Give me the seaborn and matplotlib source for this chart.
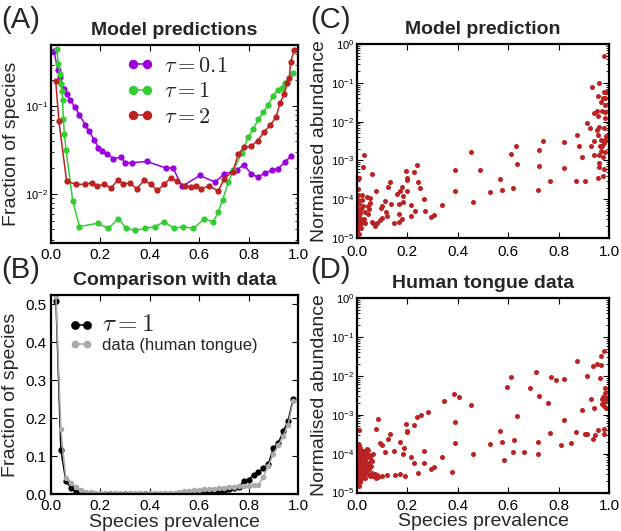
import numpy as np
import matplotlib
matplotlib.use("Agg")
import matplotlib.pyplot as plt
import seaborn as sns
from matplotlib.ticker import LogLocator, NullFormatter, MultipleLocator, FormatStrFormatter

# ---- panel A: model predictions (fraction of species vs prevalence)
x_tau01 = [0.012, 0.027, 0.036, 0.054, 0.063, 0.077, 0.097, 0.115, 0.138, 0.155, 0.174, 0.192,
           0.205, 0.227, 0.252, 0.283, 0.300, 0.329, 0.387, 0.464, 0.495, 0.529, 0.603, 0.664,
           0.700, 0.752, 0.781, 0.810, 0.837, 0.866, 0.893, 0.920, 0.947, 0.970]
y_tau01 = [0.43, 0.26, 0.219, 0.159, 0.139, 0.119, 0.098, 0.081, 0.062, 0.052, 0.042, 0.034,
           0.031, 0.029, 0.0254, 0.0266, 0.0229, 0.0229, 0.0237, 0.020, 0.020, 0.0123, 0.0164, 0.0138,
           0.0169, 0.019, 0.0217, 0.0172, 0.0157, 0.0175, 0.0187, 0.0196, 0.0233, 0.027]

x_tau1 = [0.023, 0.030, 0.036, 0.040, 0.045, 0.047, 0.050, 0.054, 0.061, 0.088, 0.115,
          0.189, 0.232, 0.273, 0.304, 0.340, 0.381, 0.421, 0.459, 0.498, 0.536, 0.576, 0.619, 0.657,
          0.677, 0.695, 0.718, 0.738, 0.772, 0.799, 0.819, 0.839, 0.860, 0.880, 0.900, 0.918,
          0.934, 0.947, 0.978]
y_tau1 = [0.45, 0.305, 0.235, 0.181, 0.148, 0.117, 0.072, 0.049, 0.0316, 0.0085, 0.0043,
          0.0047, 0.0041, 0.0053, 0.0041, 0.0039, 0.0041, 0.0043, 0.0049, 0.0041, 0.0043, 0.0041, 0.0052, 0.0049,
          0.0063, 0.0087, 0.0138, 0.0187, 0.0295, 0.0449, 0.0557, 0.0711, 0.0863, 0.105, 0.133, 0.155,
          0.163, 0.184, 0.239]

x_tau2 = [0.019, 0.032, 0.063, 0.101, 0.138, 0.165, 0.188, 0.215, 0.242, 0.270,
          0.293, 0.320, 0.347, 0.377, 0.405, 0.430, 0.459, 0.486, 0.509, 0.543,
          0.566, 0.587, 0.607, 0.641, 0.677, 0.702, 0.736, 0.758, 0.781, 0.810,
          0.837, 0.862, 0.887, 0.911, 0.927, 0.943, 0.957, 0.965, 0.970, 0.984]
y_tau2 = [0.197, 0.068, 0.0142, 0.013, 0.013, 0.0136, 0.0123, 0.0132, 0.0118, 0.0144,
          0.0132, 0.0134, 0.0116, 0.0144, 0.013, 0.0111, 0.013, 0.0155, 0.0141, 0.0125,
          0.0121, 0.0125, 0.0116, 0.0125, 0.0109, 0.0151, 0.0182, 0.0285, 0.0345, 0.0351,
          0.041, 0.051, 0.0608, 0.0756, 0.109, 0.137, 0.184, 0.212, 0.318, 0.433]

# ---- panel B: comparison with data
x_prev = [0.02, 0.04, 0.06, 0.08, 0.10, 0.12, 0.14, 0.16, 0.18, 0.20, 0.22, 0.24, 0.26, 0.28,
          0.30, 0.32, 0.34, 0.36, 0.38, 0.40, 0.42, 0.44, 0.46, 0.48, 0.50, 0.52, 0.54, 0.56,
          0.58, 0.60, 0.62, 0.64, 0.66, 0.68, 0.70, 0.72, 0.74, 0.76, 0.78, 0.80, 0.82, 0.84,
          0.86, 0.88, 0.90, 0.92, 0.94, 0.96, 0.98]
y_model = [0.51, 0.116, 0.034, 0.017, 0.006, 0.002, 0.001, 0.0005, 0.0003, 0.0, 0.0, 0.0, 0.0, 0.0,
           0.0, 0.0, 0.0, 0.0, 0.0, 0.0, 0.0, 0.0, 0.0, 0.0, 0.0, 0.0003, 0.001, 0.001,
           0.001, 0.002, 0.002, 0.003, 0.004, 0.006, 0.009, 0.013, 0.017, 0.019, 0.033, 0.037, 0.051, 0.058,
           0.068, 0.078, 0.122, 0.134, 0.165, 0.193, 0.251]
y_tongue = [0.522, 0.171, 0.041, 0.028, 0.019, 0.011, 0.006, 0.004, 0.003, 0.002, 0.002, 0.001, 0.002, 0.002,
            0.001, 0.002, 0.002, 0.002, 0.001, 0.002, 0.002, 0.002, 0.002, 0.003, 0.003, 0.004, 0.007, 0.009,
            0.010, 0.011, 0.012, 0.012, 0.014, 0.015, 0.017, 0.018, 0.019, 0.020, 0.021, 0.022, 0.023, 0.024,
            0.045, 0.075, 0.105, 0.128, 0.152, 0.183, 0.245]

# ---- panel C: model prediction, abundance vs prevalence
x_pred = [0.028, 0.022, 0.009, 0.061, 0.074, 0.038, 0.052, 0.045, 0.032, 0.012, 0.005, 0.003, 0.001, 0.008,
          0.019, 0.032, 0.058, 0.065, 0.071, 0.081, 0.091, 0.098, 0.098, 0.095, 0.111, 0.114, 0.118, 0.124,
          0.131, 0.135, 0.148, 0.157, 0.165, 0.167, 0.167, 0.171, 0.177, 0.177, 0.184, 0.184, 0.193, 0.197,
          0.200, 0.197, 0.214, 0.213, 0.226, 0.230, 0.237, 0.241, 0.249, 0.266, 0.269, 0.294, 0.307, 0.336,
          0.389, 0.389, 0.452, 0.462,
          0.002, 0.004, 0.003, 0.006, 0.002, 0.007, 0.004, 0.010, 0.004, 0.008, 0.014, 0.016, 0.018, 0.021,
          0.025, 0.014, 0.027, 0.043, 0.051, 0.048,
          0.488, 0.528, 0.567, 0.577, 0.611, 0.620, 0.630, 0.634, 0.717, 0.722, 0.724, 0.739, 0.766, 0.820,
          0.822, 0.869, 0.874, 0.881, 0.893, 0.905, 0.914, 0.926, 0.930, 0.934, 0.940, 0.940, 0.942, 0.951,
          0.954, 0.955, 0.956, 0.958, 0.958, 0.959, 0.960, 0.960, 0.962, 0.962, 0.964, 0.967, 0.967, 0.968,
          0.971, 0.973, 0.975, 0.977, 0.977, 0.980, 0.980, 0.981, 0.981, 0.983, 0.983, 0.984, 0.984, 0.985,
          0.987, 0.987, 0.983, 0.980]
y_pred = [1.34e-3, 6.7e-4, 3.5e-4, 4.5e-4, 1.6e-4, 1.17e-4, 8.2e-5, 6.5e-5, 4.8e-5, 4.3e-5, 2.9e-5, 2.0e-5, 1.46e-5, 2.4e-5,
          2.6e-5, 2.4e-5, 2.6e-5, 2.4e-5, 2.0e-5, 2.5e-5, 2.9e-5, 3.2e-5, 6.8e-5, 5.8e-5, 9.2e-5, 4.8e-5, 3.7e-5, 2.1e-4,
          2.75e-4, 7.4e-5, 2.5e-5, 1.37e-4, 7.6e-5, 4.1e-5, 2.6e-5, 1.67e-4, 2.1e-4, 3.0e-5, 1.2e-4, 8.7e-5, 5.2e-4, 3.5e-4,
          3.1e-4, 1.67e-4, 7.1e-5, 3.7e-5, 4.9e-4, 5.0e-5, 7.6e-4, 2.7e-4, 1.9e-4, 1.04e-4, 5.1e-5, 3.5e-5, 3.9e-5, 7.0e-5,
          5.7e-4, 1.64e-4, 1.6e-3, 8.7e-5,
          1.8e-4, 1.3e-4, 9.5e-5, 7.5e-5, 5.5e-5, 4.0e-5, 3.4e-5, 2.2e-5, 1.7e-5, 1.3e-5, 1.8e-5, 3.0e-5, 9.5e-5, 1.25e-4,
          6.5e-5, 5.5e-5, 3.0e-5, 4.2e-5, 1.1e-4, 5.5e-5,
          5.5e-4, 1.5e-4, 3.35e-4, 1.74e-4, 1.5e-3, 1.96e-4, 2.4e-3, 8.2e-4, 1.74e-4, 7.0e-4, 1.84e-3, 3.1e-3, 2.9e-4, 6.5e-4,
          3.0e-3, 3.0e-4, 4.5e-3, 2.3e-3, 1.24e-3, 2.9e-4, 9.2e-3, 6.8e-3, 2.3e-3, 7.7e-2, 1.66e-2, 3.1e-3, 1.37e-3, 6.2e-3,
          1.9e-2, 1.4e-2, 3.6e-4, 4.5e-2, 4.6e-3, 1.34e-3, 8.5e-4, 6.7e-4, 9.9e-2, 7.2e-3, 2.3e-3, 3.2e-2, 1.7e-3, 3.4e-3,
          2.3e-3, 1.9e-2, 1.26e-3, 4.0e-2, 3.85e-4, 0.485, 5.8e-2, 6.8e-3, 2.8e-3, 2.6e-2, 1.24e-2, 1.8e-2, 3.4e-3, 4.0e-2,
          4.2e-3, 5.7e-2, 1.6e-3, 6.0e-4]

# ---- panel D: human tongue data
x_data = [0.008, 0.003, 0.009, 0.082, 0.075, 0.090, 0.098, 0.122, 0.130, 0.038, 0.045, 0.019, 0.052, 0.032,
          0.111, 0.148, 0.169, 0.185, 0.184, 0.193, 0.197, 0.200, 0.214, 0.228, 0.226, 0.238, 0.254, 0.243,
          0.266, 0.267, 0.280, 0.294, 0.307, 0.336, 0.344, 0.376, 0.384, 0.389, 0.389, 0.405, 0.452, 0.462,
          0.118, 0.152, 0.169, 0.191, 0.100, 0.085,
          0.002, 0.004, 0.006, 0.003, 0.008, 0.002, 0.005, 0.010, 0.003, 0.007, 0.004, 0.012, 0.015, 0.018,
          0.013, 0.020, 0.016, 0.022, 0.025, 0.028, 0.024, 0.030, 0.033, 0.035, 0.038, 0.036, 0.042, 0.045,
          0.048, 0.050, 0.055, 0.058, 0.060, 0.065, 0.070, 0.040, 0.027, 0.011, 0.009, 0.055, 0.062, 0.075,
          0.080, 0.018, 0.005, 0.030,
          0.528, 0.567, 0.576, 0.582, 0.594, 0.610, 0.618, 0.622, 0.634, 0.664, 0.687, 0.712, 0.717, 0.718,
          0.721, 0.757, 0.766, 0.770, 0.789, 0.808, 0.820, 0.821, 0.848, 0.869, 0.874, 0.892, 0.905, 0.911,
          0.914, 0.929, 0.935, 0.935, 0.940, 0.945, 0.952, 0.955, 0.964, 0.968, 0.968, 0.972, 0.974, 0.977,
          0.980, 0.981, 0.981, 0.983, 0.984, 0.985, 0.987, 0.988, 0.980]
y_data = [4.0e-4, 1.8e-4, 1.7e-4, 7.6e-4, 4.2e-4, 1.9e-4, 1.7e-4, 2.4e-4, 3.1e-4, 1.3e-4, 1.25e-4, 9.7e-5, 7.5e-5, 6.8e-5,
          1.07e-4, 1.16e-4, 2.0e-4, 1.43e-4, 1.0e-4, 5.9e-4, 3.8e-4, 3.5e-4, 8.3e-5, 5.9e-5, 5.5e-4, 8.5e-4, 9.6e-4, 3.2e-5,
          1.2e-4, 5.9e-5, 1.16e-3, 4.0e-5, 4.4e-5, 8.0e-5, 2.2e-3, 3.4e-5, 3.4e-3, 6.5e-4, 1.9e-4, 2.9e-3, 1.8e-3, 9.9e-5,
          2.9e-5, 2.9e-5, 3.0e-5, 2.7e-5, 2.6e-5, 2.5e-5,
          1.6e-5, 2.0e-5, 2.5e-5, 3.0e-5, 3.5e-5, 4.2e-5, 5.0e-5, 6.0e-5, 7.0e-5, 8.5e-5, 1.1e-4, 1.4e-4, 2.2e-5, 3.2e-5,
          4.5e-5, 5.5e-5, 7.5e-5, 2.6e-5, 4.0e-5, 3.0e-5, 6.2e-5, 5.0e-5, 2.4e-5, 3.6e-5, 4.6e-5, 8.0e-5, 3.0e-5, 5.6e-5,
          4.0e-5, 2.7e-5, 4.8e-5, 6.5e-5, 3.2e-5, 2.6e-5, 3.0e-5, 1.0e-4, 1.2e-4, 1.9e-5, 1.5e-5, 9.0e-5, 1.0e-4, 2.4e-5,
          2.8e-5, 1.2e-4, 1.4e-4, 8.5e-5,
          1.74e-4, 3.7e-4, 1.96e-4, 6.7e-5, 5.3e-3, 9.1e-3, 1.1e-4, 2.2e-4, 9.2e-4, 1.1e-4, 4.8e-3, 1.22e-2, 2.0e-4, 9.5e-5,
          3.0e-3, 2.0e-3, 3.3e-4, 9.1e-3, 7.8e-3, 1.7e-4, 8.3e-3, 7.1e-4, 1.85e-4, 3.5e-4, 2.4e-2, 1.36e-3, 3.1e-4, 3.2e-4,
          9.7e-3, 2.6e-3, 2.4e-4, 1.74e-2, 1.5e-3, 3.0e-4, 2.0e-2, 4.0e-4, 8.7e-3, 1.9e-2, 3.25e-2, 1.9e-3, 2.5e-3, 2.8e-3,
          3.1e-4, 4.4e-2, 4.4e-4, 3.6e-3, 4.9e-3, 2.3e-3, 1.5e-3, 2.65e-3, 1.66e-3]

purple = "#9900dd"
green = "#33cc33"
red = "#bb2222"

sns.set_style("ticks")
plt.rcParams["font.family"] = ["Liberation Sans", "DejaVu Sans"]
plt.rcParams.update({
    "axes.linewidth": 1.6,
    "xtick.direction": "in", "ytick.direction": "in",
    "xtick.top": True, "ytick.right": True,
    "xtick.major.size": 4, "ytick.major.size": 4,
    "xtick.minor.size": 2, "ytick.minor.size": 2,
    "xtick.major.width": 0.8, "ytick.major.width": 0.8,
    "xtick.minor.width": 0.6, "ytick.minor.width": 0.6,
    "xtick.labelsize": 11, "ytick.labelsize": 11,
    "xtick.color": "black", "ytick.color": "black",
    "axes.edgecolor": "black",
})

fig = plt.figure(figsize=(6.21, 5.31), dpi=100)
W, H = 621.0, 531.0
axA = fig.add_axes([51 / W, 1 - 243 / H, 247 / W, 198 / H])
axC = fig.add_axes([357 / W, 1 - 238 / H, 252 / W, 194 / H])
axB = fig.add_axes([51 / W, 1 - 494 / H, 247 / W, 199 / H])
axD = fig.add_axes([357 / W, 1 - 492.5 / H, 252 / W, 194.5 / H])

line_kw = dict(marker="o", markersize=4.5, markeredgewidth=0, linewidth=1.1, estimator=None, sort=False)

# panel A
sns.lineplot(x=x_tau01, y=y_tau01, color=purple, label=r"$\tau = 0.1$", ax=axA, **line_kw)
sns.lineplot(x=x_tau1, y=y_tau1, color=green, label=r"$\tau = 1$", ax=axA, **line_kw)
sns.lineplot(x=x_tau2, y=y_tau2, color=red, label=r"$\tau = 2$", ax=axA, **line_kw)
axA.set_yscale("log")
axA.set_xlim(0, 1)
axA.set_ylim(0.0028, 0.5)
axA.set_title("Model predictions", fontsize=14, fontweight="bold", pad=7)
axA.set_ylabel("Fraction of species", fontsize=14)
axA.set_xlabel("")
legA = axA.legend(loc="upper left", bbox_to_anchor=(0.27, 0.99), frameon=False, fontsize=16,
                  handlelength=1.2, handletextpad=0.5, labelspacing=0.2, borderaxespad=0,
                  numpoints=2, markerscale=1.5)
for t in legA.get_texts():
    t.set_math_fontfamily("cm")

# panel B
sns.lineplot(x=x_prev, y=y_model, color="black", label=r"$\tau = 1$", ax=axB, **line_kw)
sns.lineplot(x=x_prev, y=y_tongue, color="#aaaaaa", label="data (human tongue)", ax=axB,
             **dict(line_kw, markersize=4))
axB.set_xlim(0, 1)
axB.set_ylim(0, 0.525)
axB.yaxis.set_major_locator(MultipleLocator(0.1))
axB.yaxis.set_major_formatter(FormatStrFormatter("%.1f"))
axB.set_title("Comparison with data", fontsize=14, fontweight="bold", pad=7)
axB.set_ylabel("Fraction of species", fontsize=14)
axB.set_xlabel("Species prevalence", fontsize=14, labelpad=1)
legB = axB.legend(loc="upper left", bbox_to_anchor=(0.05, 0.95), frameon=False, fontsize=12,
                  handlelength=1.3, handletextpad=0.6, labelspacing=0.15, borderaxespad=0,
                  numpoints=2, markerscale=1.4)
legB.get_texts()[0].set_fontsize(18)
legB.get_texts()[0].set_math_fontfamily("cm")

# panels C and D
sns.scatterplot(x=x_pred, y=y_pred, color=red, s=13, linewidth=0, ax=axC)
sns.scatterplot(x=x_data, y=y_data, color=red, s=13, linewidth=0, ax=axD)
for ax, title in [(axC, "Model prediction"), (axD, "Human tongue data")]:
    ax.set_yscale("log")
    ax.set_xlim(0, 1)
    ax.set_ylim(1e-5, 1)
    ax.set_title(title, fontsize=14, fontweight="bold", pad=7)
    ax.set_ylabel("Normalised abundance", fontsize=14, labelpad=2)
    ax.set_xlabel("")
axD.set_xlabel("Species prevalence", fontsize=14, labelpad=0)

for ax in [axA, axB, axC, axD]:
    ax.xaxis.set_major_locator(MultipleLocator(0.2))
    ax.xaxis.set_major_formatter(FormatStrFormatter("%.1f"))
    for side in ["top", "right", "bottom", "left"]:
        ax.spines[side].set_visible(True)
        ax.spines[side].set_linewidth(1.6)
    ax.tick_params(which="both", direction="in", top=True, right=True)

for ax in [axA, axC, axD]:
    ax.yaxis.set_major_locator(LogLocator(base=10, numticks=10))
    ax.yaxis.set_minor_locator(LogLocator(base=10, subs=np.arange(2, 10), numticks=10))
    ax.yaxis.set_minor_formatter(NullFormatter())
    ax.tick_params(axis="y", which="major", labelsize=8, pad=2)

# keep the bottom x tick labels clear of the 10^-5 labels
for ax in [axC, axD]:
    ax.tick_params(axis="x", which="major", pad=5)

fig.text(0.002, 0.988, "(A)", fontsize=21, va="top")
fig.text(0.002, 0.518, "(B)", fontsize=21, va="top")
fig.text(0.499, 0.988, "(C)", fontsize=21, va="top")
fig.text(0.499, 0.518, "(D)", fontsize=21, va="top")

fig.savefig("out.png", dpi=100)
